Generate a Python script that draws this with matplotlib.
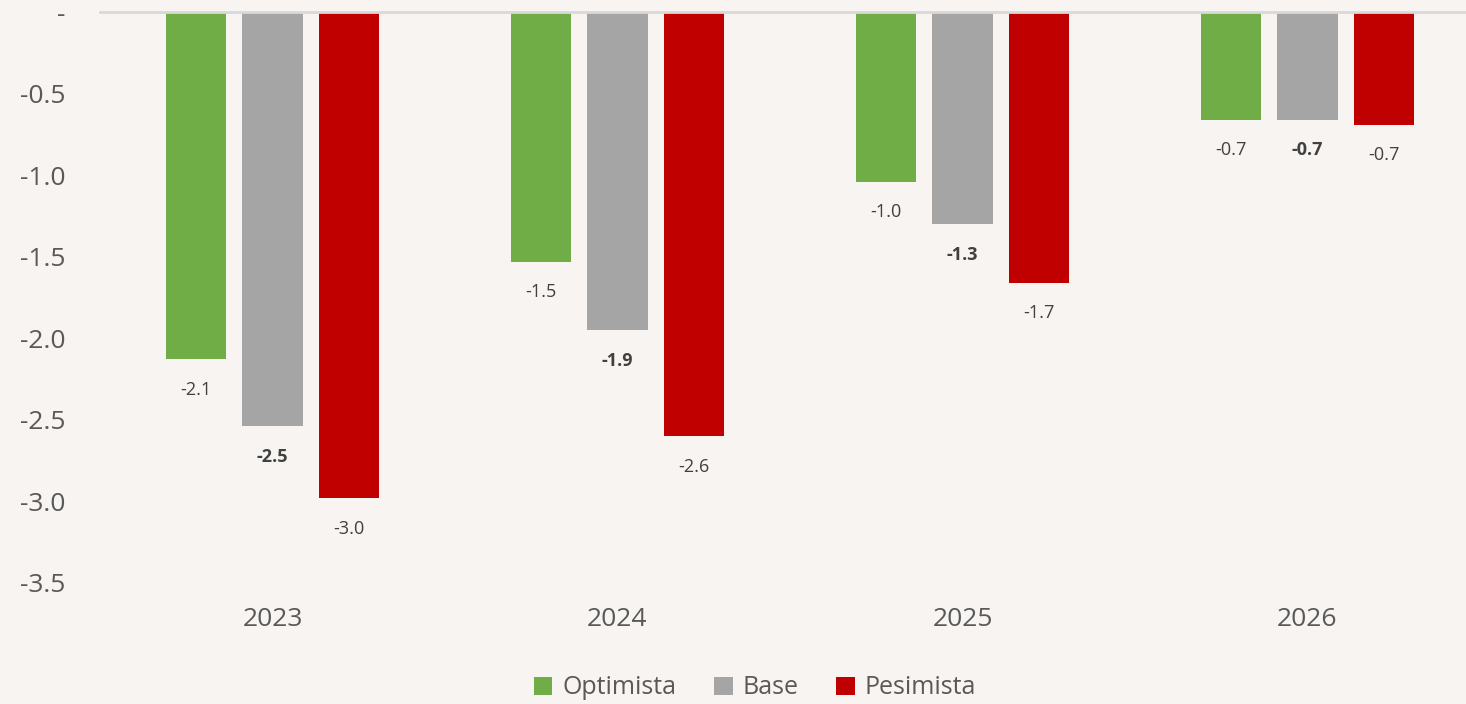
import matplotlib
matplotlib.use("Agg")
import matplotlib.pyplot as plt
from matplotlib.patches import Patch
import numpy as np

years = ["2023", "2024", "2025", "2026"]
series = ["Optimista", "Base", "Pesimista"]
optimista = [-2.13, -1.53, -1.04, -0.66]
base = [-2.54, -1.95, -1.30, -0.66]
pesimista = [-2.98, -2.60, -1.66, -0.69]
labels_opt = ["-2.1", "-1.5", "-1.0", "-0.7"]
labels_base = ["-2.5", "-1.9", "-1.3", "-0.7"]
labels_pes = ["-3.0", "-2.6", "-1.7", "-0.7"]
yticks = [0, -0.5, -1.0, -1.5, -2.0, -2.5, -3.0, -3.5]
ytick_labels = ["-", "-0.5", "-1.0", "-1.5", "-2.0", "-2.5", "-3.0", "-3.5"]

colors = ["#70AD47", "#A5A5A5", "#C00000"]
bg = "#F7F4F1"
font = "Open Sans"

W, H = 1466, 704
fig = plt.figure(figsize=(W / 100, H / 100), dpi=100, facecolor=bg)
# axes: left 100px, right 1480px, top 12px, bottom 583px
ax = fig.add_axes([100 / W, 1 - 583 / H, 1380 / W, (583 - 12) / H], facecolor=bg)

x = np.arange(len(years))
width = 0.174
offset = 0.222
all_vals = [optimista, base, pesimista]
all_labels = [labels_opt, labels_base, labels_pes]
for i, (vals, labs) in enumerate(zip(all_vals, all_labels)):
    xs = x + (i - 1) * offset
    ax.bar(xs, vals, width=width, color=colors[i], zorder=2)
    for xi, v, lab in zip(xs, vals, labs):
        ax.annotate(lab, (xi, v), xytext=(0, -22), textcoords="offset points",
                    ha="center", va="center", fontsize=13, family=font,
                    color="#404040", fontweight="bold" if i == 1 else "normal")

ax.set_xlim(-0.5, len(years) - 0.5)
ax.set_ylim(-3.5, 0)
ax.set_yticks(yticks)
ax.set_yticklabels(ytick_labels, family=font, fontsize=19, color="#595959")
ax.set_xticks(x)
ax.set_xticklabels(years, family=font, fontsize=19, color="#595959")
ax.tick_params(axis="y", length=0, pad=25)
ax.tick_params(axis="x", length=0, pad=17)
for s in ["left", "right", "bottom"]:
    ax.spines[s].set_visible(False)
ax.spines["top"].set_color("#D9D9D9")
ax.spines["top"].set_linewidth(2)
ax.spines["top"].set_zorder(3)

handles = [Patch(facecolor=c, edgecolor="none") for c in colors]
fig.legend(handles, series, loc="center", bbox_to_anchor=(755 / W, 1 - 688 / H),
           ncol=3, frameon=False, prop={"family": font, "size": 18},
           labelcolor="#595959", handlelength=0.75, handleheight=0.75,
           handletextpad=0.4, columnspacing=1.5)

fig.savefig("out.png", dpi=100, facecolor=bg)
